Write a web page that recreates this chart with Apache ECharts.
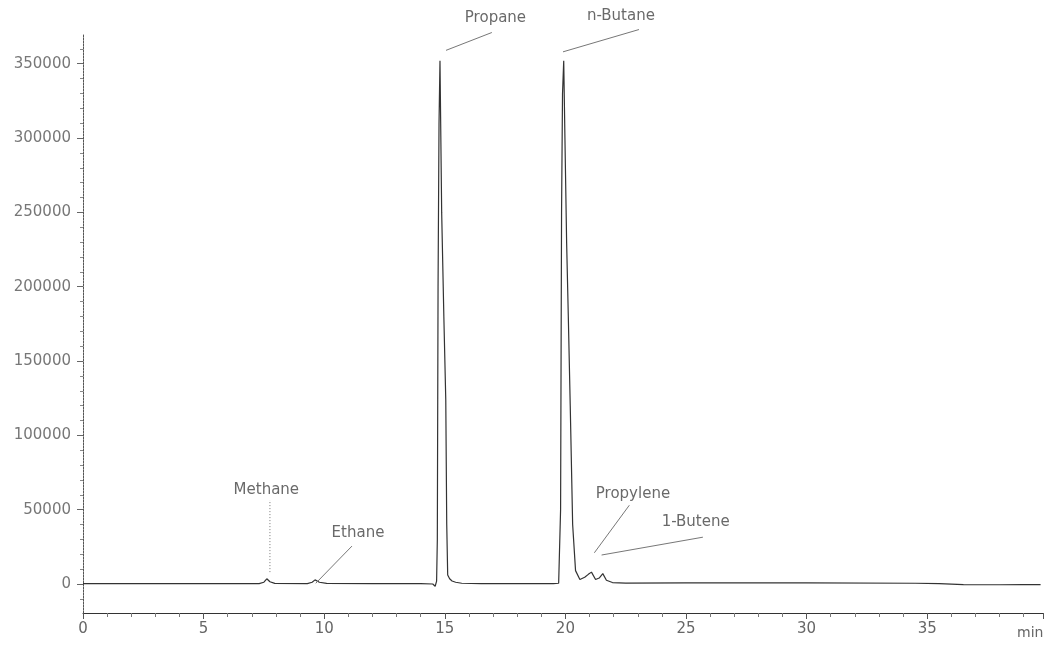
<!DOCTYPE html>
<html>
<head>
<meta charset="utf-8">
<title>Chromatogram</title>
<script src="https://cdn.jsdelivr.net/npm/echarts@6/dist/echarts.min.js"></script>
<style>
html, body { margin: 0; padding: 0; background: #fff; }
#container { width: 1047px; height: 646px; }
</style>
</head>
<body>
<div id="container"></div>
<script type="text/javascript">
// retention time (min) / detector signal
var times = [0.0, 2.0, 4.0, 6.0, 7.3, 7.5, 7.62, 7.75, 7.95, 9.3, 9.5, 9.62, 9.8, 10.1,
	12.0, 14.0, 14.5, 14.6, 14.66, 14.69, 14.72, 14.76, 14.8, 14.87, 14.96, 15.04, 15.08, 15.12,
	15.2, 15.3, 15.45, 15.7, 16.5, 18.0, 19.5, 19.72, 19.8, 19.84, 19.88, 19.93, 19.98, 20.05,
	20.12, 20.2, 20.3, 20.42, 20.6, 20.8, 20.95, 21.08, 21.25, 21.4, 21.55, 21.7, 21.95, 22.5,
	25.0, 30.0, 34.5, 35.5, 36.5, 38.0, 39.0, 39.7];
var signal = [300, 300, 200, 300, 300, 1200, 3500, 1500, 400, 300, 1200, 2800, 1200, 400,
	200, 200, 0, -1500, 2000, 30000, 200000, 310000, 352000, 250000, 180000, 124000, 40000, 6000,
	3500, 2000, 1200, 500, 300, 300, 300, 500, 50000, 250000, 330000, 352000, 300000, 230000,
	180000, 120000, 40000, 9000, 3000, 4500, 6500, 8000, 3000, 4000, 7000, 2500, 1000, 600,
	800, 700, 500, 300, -400, -500, -400, -400];

// y axis labels / ticks
var yTicks = [0, 50000, 100000, 150000, 200000, 250000, 300000, 350000];
var yMinorTicks = [-10000, 10000, 20000, 30000, 40000, 60000, 70000, 80000, 90000, 110000, 120000,
	130000, 140000, 160000, 170000, 180000, 190000, 210000, 220000, 230000, 240000, 260000, 270000,
	280000, 290000, 310000, 320000, 330000, 340000, 360000];

// peak labels: text anchor and leader line (peak end -> label end), in axis units
var peakNames = ['Methane', 'Ethane', 'Propane', 'n-Butane', 'Propylene', '1-Butene'];
var labelX = [7.6, 11.4, 17.1, 22.3, 22.8, 25.4];
var labelY = [63000, 34500, 381000, 382000, 60500, 41500];
var peakX = [7.75, 9.65, 15.05, 19.9, 21.2, 21.5];
var peakY = [8000, 500, 359000, 358000, 21000, 19500];
var leadX = [7.75, 11.15, 16.95, 23.05, 22.65, 25.7];
var leadY = [56500, 25500, 371000, 373000, 53000, 31500];

var dom = document.getElementById("container");
var myChart = echarts.init(dom, null, { renderer: 'canvas' });

var fontFam = '"DejaVu Sans", sans-serif';

var trace = [];
for (var i = 0; i < times.length; i++) {
	trace.push([times[i], signal[i]]);
}

var labelPts = [];
for (var j = 0; j < peakNames.length; j++) {
	labelPts.push({ name: peakNames[j], value: [labelX[j], labelY[j]] });
}

var series = [{
	name: 'signal',
	type: 'line',
	data: trace,
	symbol: 'none',
	clip: false,
	lineStyle: { color: '#333', width: 1.2 },
	z: 3
}, {
	name: 'labels',
	type: 'scatter',
	data: labelPts,
	symbolSize: 1,
	clip: false,
	itemStyle: { color: 'rgba(0,0,0,0)' },
	label: {
		show: true,
		position: 'inside',
		formatter: '{b}',
		color: '#444',
		fontSize: 15,
		fontFamily: fontFam
	},
	silent: true
}];

// one small line per leader
for (var k = 0; k < peakNames.length; k++) {
	series.push({
		name: 'leader' + k,
		type: 'line',
		data: [[peakX[k], peakY[k]], [leadX[k], leadY[k]]],
		symbol: 'none',
		clip: false,
		silent: true,
		lineStyle: {
			color: '#777',
			width: 1,
			type: k === 0 ? [1, 2] : 'solid'
		}
	});
}

var option = {
	backgroundColor: '#fff',
	animation: false,
	grid: {
		left: 83,
		right: 4,
		top: 34,
		bottom: 33,
		outerBoundsMode: 'none'
	},
	xAxis: {
		type: 'value',
		min: 0,
		max: 39.8,
		interval: 5,
		name: 'min',
		nameLocation: 'end',
		nameGap: -26,
		nameTextStyle: {
			color: '#666',
			fontSize: 14,
			fontFamily: fontFam,
			verticalAlign: 'top',
			padding: [13, 0, 0, 0]
		},
		axisLine: { onZero: false, lineStyle: { color: '#333', width: 1 } },
		axisTick: { length: 6, lineStyle: { color: '#555' } },
		minorTick: { show: true, splitNumber: 5, length: 4, lineStyle: { color: '#777' } },
		splitLine: { show: false },
		axisLabel: {
			color: '#666',
			fontSize: 15,
			fontFamily: fontFam,
			margin: 9,
			showMaxLabel: false
		}
	},
	yAxis: [{
		type: 'value',
		position: 'left',
		min: -19500,
		max: 370000,
		axisLine: { show: true, lineStyle: { color: '#555', width: 1, type: [2, 1] } },
		axisTick: { show: true, length: 6, customValues: yTicks, lineStyle: { color: '#666' } },
		splitLine: { show: false },
		axisLabel: {
			color: '#777',
			fontSize: 15,
			fontFamily: fontFam,
			margin: 12,
			customValues: yTicks,
			formatter: function (v) { return String(v); }
		}
	}, {
		type: 'value',
		position: 'left',
		min: -19500,
		max: 370000,
		axisLine: { show: false },
		axisTick: { show: true, length: 3, customValues: yMinorTicks, lineStyle: { color: '#888' } },
		splitLine: { show: false },
		axisLabel: { show: false }
	}],
	series: series
};

myChart.setOption(option, true);
</script>
</body>
</html>
